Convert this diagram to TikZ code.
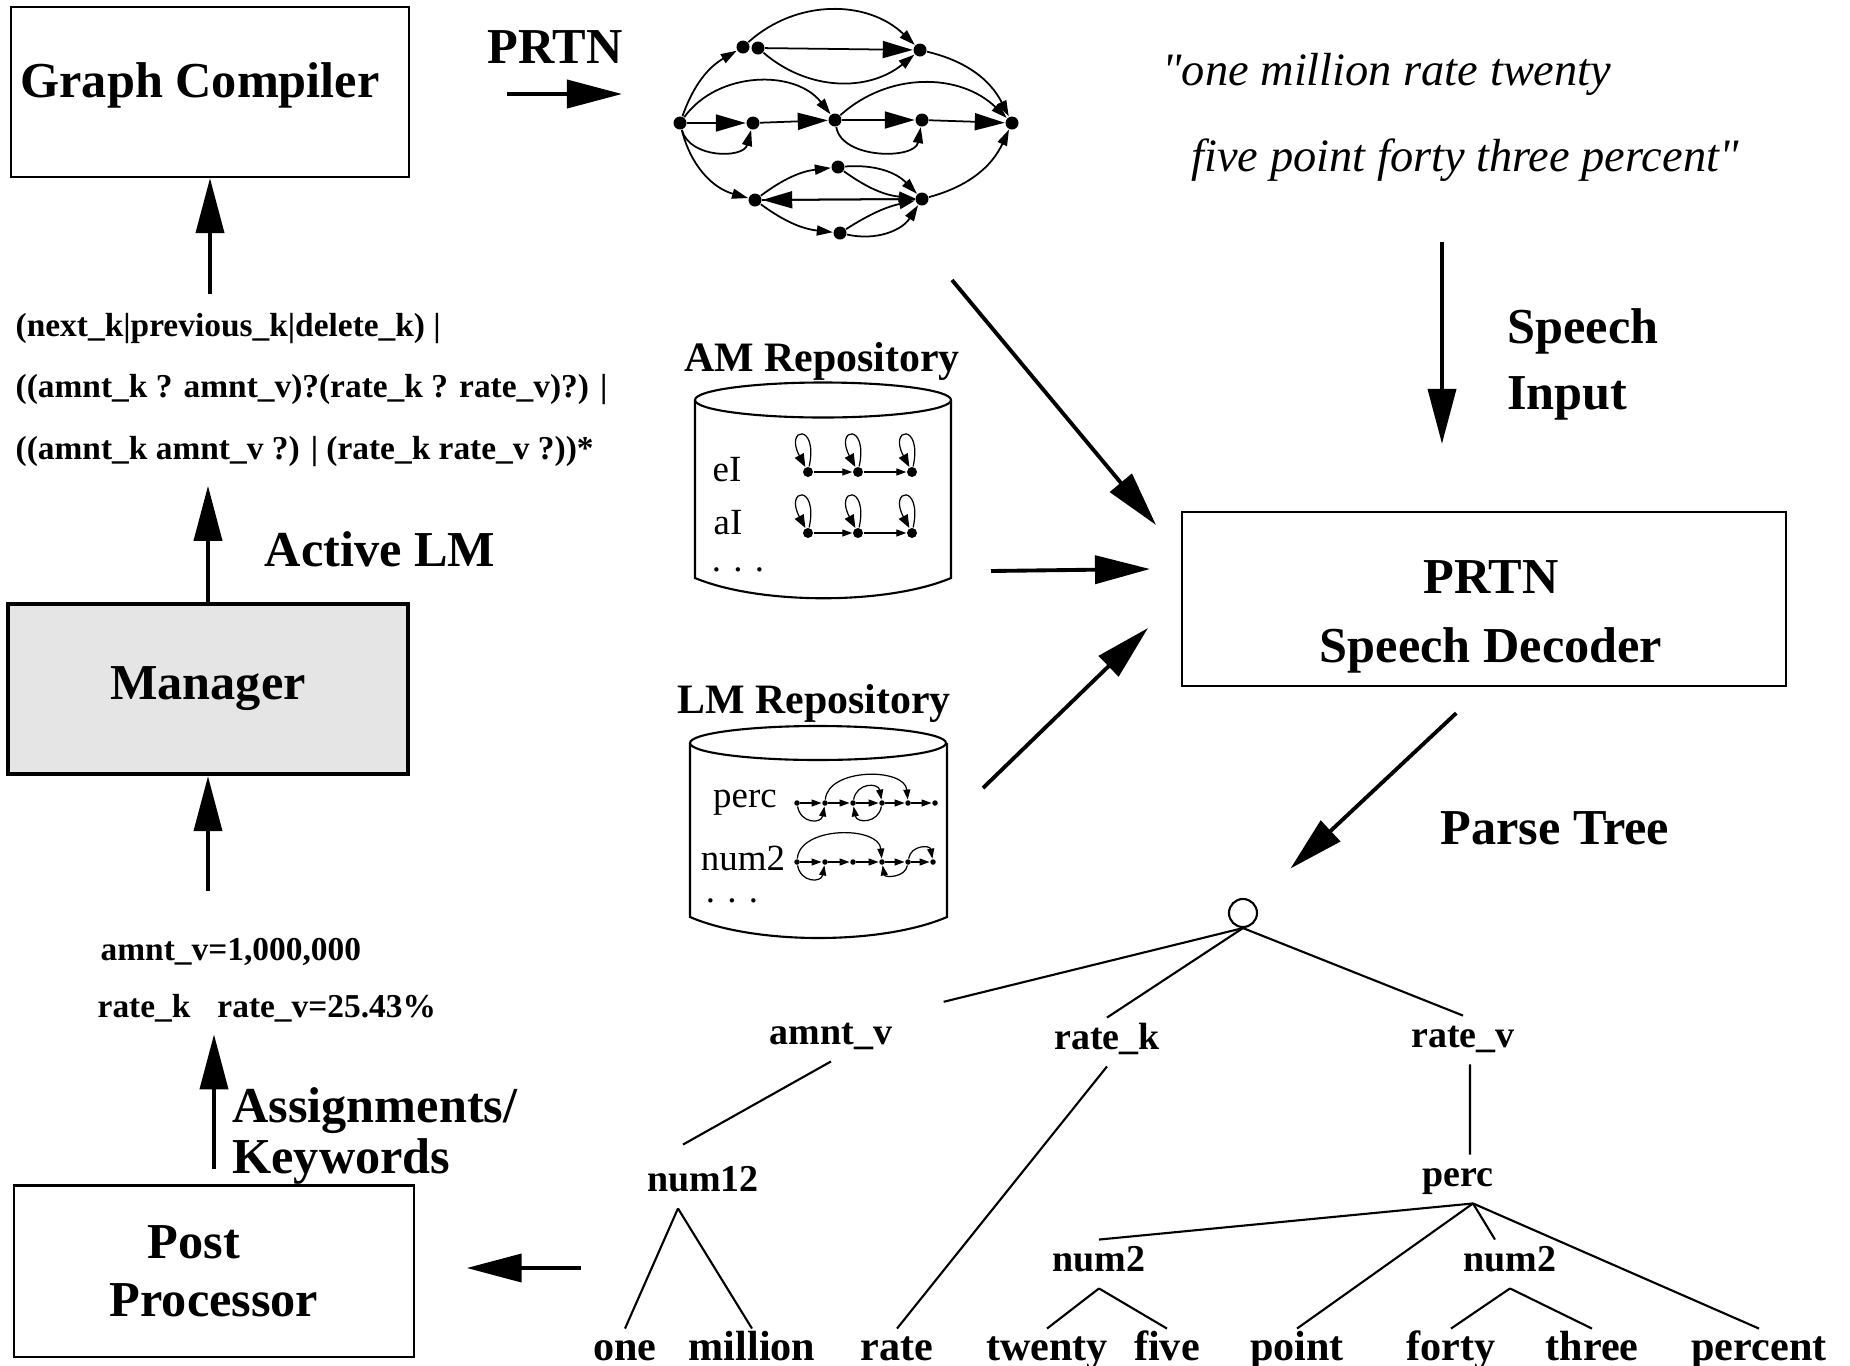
\documentclass[tikz,border=0pt]{standalone}
\usepackage{fontspec}
\setmainfont{Liberation Serif}[Ligatures=TeXOff]
\usetikzlibrary{arrows.meta,positioning}
\definecolor{mgrgray}{RGB}{229,229,229}
\newcommand{\biglbl}{\fontsize{14.3}{18.8}\selectfont\bfseries}
\newcommand{\midlbl}{\fontsize{11.9}{14}\selectfont\bfseries}
\newcommand{\smalllbl}{\fontsize{9.5}{17.6}\selectfont\bfseries}
\newcommand{\treelbl}{\fontsize{10.8}{12}\selectfont\bfseries}
\newcommand{\leaflbl}{\fontsize{12}{14}\selectfont\bfseries}
\newcommand{\replbl}{\fontsize{10.5}{12}\selectfont}

\begin{document}
\begin{tikzpicture}[
    x=0.01cm, y=0.01cm,
    box/.style={rectangle, draw, line width=0.6pt, minimum width=3.97cm, minimum height=1.7cm, align=center, font=\biglbl},
    arr/.style={-{Triangle[length=5.5mm, width=2.8mm]}, line width=1.1pt},
    dot/.style={circle, fill, inner sep=0pt, minimum size=1.3mm},
    amdot/.style={circle, fill, inner sep=0pt, minimum size=1mm},
    lmdot/.style={circle, fill, inner sep=0pt, minimum size=0.55mm},
    gbig/.style={-{Triangle[length=3mm, width=1.7mm]}, line width=0.5pt},
    gsmall/.style={-{Triangle[length=1.6mm, width=1mm]}, line width=0.5pt},
    gtiny/.style={-{Triangle[length=1mm, width=0.7mm]}, line width=0.35pt},
    tlbl/.style={font=\treelbl, inner sep=2pt, text height=0.7em, text depth=0.25em},
    leaf/.style={font=\leaflbl, inner sep=2pt, text height=0.7em, text depth=0.25em},
    tline/.style={line width=0.6pt}
]
\useasboundingbox (0,0) rectangle (1850,-1366);

% left column
\node[box] (gc) at (210,-92) {};
\node[font=\biglbl] (gctxt) at (200,-85) {Graph Compiler};
\node[anchor=west, align=left, font=\smalllbl, inner xsep=0pt, inner ysep=0.18cm] (regex) at (15,-390)
  {(next\_k|previous\_k|delete\_k) |\\((amnt\_k ? amnt\_v)?(rate\_k ? rate\_v)?) |\\((amnt\_k amnt\_v ?) | (rate\_k rate\_v ?))*};
\node[box, fill=mgrgray, line width=1.2pt, minimum width=4cm] (mgr) at (208,-689) {Manager};
\node[font=\biglbl] (alm) at (380,-549) {Active LM};
\node[anchor=west, align=left, font={\fontsize{9.5}{16.2}\selectfont\bfseries}, inner xsep=0pt] (asg) at (97,-980)
  {\hspace*{0.03cm}amnt\_v=1,000,000\\rate\_k\hspace{0.27cm}rate\_v=25.43\%};
\node[anchor=west, align=left, font={\fontsize{14.3}{14.5}\selectfont\bfseries}] (akw) at (220,-1136) {Assignments/\\Keywords};
\node[box, minimum width=3.99cm, minimum height=1.71cm, align=left, font={\fontsize{14.3}{16.5}\selectfont\bfseries}] (pp) at (214,-1271)
  {\hspace*{0.38cm}Post\\Processor};

\draw[arr] (gc.south |- regex.north) -- (gc.south);
\draw[arr] (mgr.north) -- (mgr.north |- regex.south);
\draw[arr, shorten <=3.5mm] (mgr.south |- asg.north) -- (mgr.south);
\draw[arr, shorten <=1.5mm] (pp.north) -- (pp.north |- asg.south);

% PRTN graph
\node[font=\biglbl] (prtn) at (555,-47) {PRTN};
\coordinate (prtnA) at (507,-94);
\coordinate (prtnB) at (622,-94);
\draw[arr] (prtnA) -- (prtnB);

\node[dot] (g0) at (680,-123) {};
\node[dot] (g1) at (743,-47) {};
\node[dot] (g2) at (758,-48) {};
\node[dot] (g3) at (920,-50) {};
\node[dot] (g4) at (753,-123) {};
\node[dot] (g5) at (835,-120) {};
\node[dot] (g6) at (922,-120) {};
\node[dot] (g7) at (1012,-123) {};
\node[dot] (g8) at (838,-167) {};
\node[dot] (g9) at (755,-200) {};
\node[dot] (g10) at (922,-199) {};
\node[dot] (g11) at (840,-233) {};

\draw[gsmall] (g0) to[bend left=20] (g1);
\draw[gsmall] (g1) to[bend left=43] (g3);
\draw[gbig] (g2) -- (g3);
\draw[gsmall] (g2) to[bend right=40] (g3);
\draw[gsmall] (g3) to[bend left=25] (g7);
\draw[gbig] (g0) -- (g4);
\draw[gsmall] (g0) to[bend right=75, looseness=1.1] (g4);
\draw[gsmall] (g0) to[bend left=53] (g5);
\draw[gbig] (g4) -- (g5);
\draw[gbig] (g5) -- (g6);
\draw[gsmall] (g5) to[bend right=80] (g6);
\draw[gsmall] (g5) to[bend left=43] (g7);
\draw[gbig] (g6) -- (g7);
\draw[gsmall] (g0) to[bend right=30] (g9);
\draw[gsmall] (g9) to[bend left=15] (g8);
\draw[gsmall] (g8) to[bend left=25] (g10);
\draw[gsmall] (g8) to[bend right=15] (g10);
\draw[gbig] (g10) -- (g9);
\draw[gsmall] (g9) -- (g10);
\draw[gsmall] (g9) to[bend right=15] (g11);
\draw[gsmall] (g11) to[bend left=10] (g10);
\draw[gsmall] (g11) to[bend right=35] (g10);
\draw[gsmall] (g10) to[bend right=25] (g7);

% speech input
\node[anchor=west, font=\fontsize{13.2}{15}\selectfont\itshape] (qa) at (1150,-74) {"one million rate twenty};
\node[anchor=west, font=\fontsize{13.2}{15}\selectfont\itshape] (qb) at (1179,-160) {five point forty three percent"};
\node[anchor=west, align=left, font=\biglbl] (spin) at (1495,-364) {Speech\\Input};
\node[box, minimum width=6.03cm, minimum height=1.74cm] (dec) at (1484,-599) {};
\node[align=center, font={\fontsize{14.3}{19.7}\selectfont\bfseries}] (dectxt) at (1491,-617) {PRTN\\Speech Decoder};
\coordinate (spA) at (1442,-242);
\draw[arr, shorten >=6.7mm] (spA) -- (spA |- dec.north);

% AM repository
\node[font=\midlbl] (amlbl) at (822,-361) {AM Repository};
\draw[line width=0.6pt] (823,-400) ellipse [x radius=128, y radius=17.5];
\draw[line width=0.6pt] (695,-400) -- (695,-578) .. controls (760,-605) and (887,-605) .. (951,-578) -- (951,-400);
\node[font=\replbl, inner sep=0pt] (ei) at (727,-470) {eI};
\node[font=\replbl, inner sep=0pt] (ai) at (728,-523) {aI};
\node[font=\replbl, inner sep=0pt] (amdots) at (738,-570) {.\,\,.\,\,.};
\foreach \r/\y in {a/-472, b/-533} {
  \node[amdot] (\r1) at (808,\y) {};
  \node[amdot] (\r2) at (858,\y) {};
  \node[amdot] (\r3) at (912,\y) {};
  \draw[gtiny] (\r1) -- (\r2);
  \draw[gtiny] (\r2) -- (\r3);
  \foreach \k in {1,2,3}
    \draw[-{Triangle[length=1.3mm, width=1mm]}, line width=0.35pt] (\r\k) edge[loop, out=78, in=118, min distance=4.5mm] (\r\k);
}

% LM repository
\node[font=\midlbl] (lmlbl) at (814,-703) {LM Repository};
\draw[line width=0.6pt] (818,-743) ellipse [x radius=128, y radius=17];
\draw[line width=0.6pt] (690,-743) -- (690,-917) .. controls (755,-945) and (882,-945) .. (947,-917) -- (947,-743);
\node[font=\replbl, inner sep=0pt] (perclbl) at (745,-803) {perc};
\node[font=\replbl, inner sep=0pt] (numlbl) at (743,-858) {num2};
\node[font=\replbl, inner sep=0pt] (lmdots) at (732,-901) {.\,\,.\,\,.};
\foreach \i/\x in {1/797, 2/825, 3/853, 4/882, 5/908, 6/935}
  \node[lmdot] (p\i) at (\x,-803) {};
\foreach \i/\x in {1/797, 2/825, 3/853, 4/882, 5/908, 6/933}
  \node[lmdot] (q\i) at (\x,-862) {};
\foreach \a/\b in {1/2, 2/3, 3/4, 4/5, 5/6} {
  \draw[gtiny] (p\a) -- (p\b);
  \draw[gtiny] (q\a) -- (q\b);
}
\draw[gtiny] (p1) to[bend right=80, looseness=1.7] (p2);
\draw[gtiny] (p2) to[bend left=85] (p5);
\draw[gtiny] (p3) to[bend left=80, looseness=1.6] (p4);
\draw[gtiny] (p4) to[bend left=80, looseness=1.6] (p3);
\draw[gtiny] (q1) to[bend right=80, looseness=1.7] (q2);
\draw[gtiny] (q1) to[bend left=85] (q4);
\draw[gtiny] (q5) to[bend left=80, looseness=1.3] (q4);
\draw[gtiny] (q5) to[bend left=80, looseness=1.5] (q6);

% into the decoder
\coordinate (gA) at (952,-280);
\coordinate (gB) at (1156,-525);
\coordinate (amA) at (991,-571);
\coordinate (amB) at (1150,-569);
\coordinate (lmA) at (983,-788);
\coordinate (lmB) at (1148,-628);
\draw[arr] (gA) -- (gB);
\draw[arr] (amA) -- (amB);
\draw[arr] (lmA) -- (lmB);

% parse tree
\node[font=\biglbl] (ptlbl) at (1555,-828) {Parse Tree};
\node[circle, draw, line width=0.6pt, minimum size=0.28cm, inner sep=0pt] (root) at (1243,-913) {};
\draw[arr, shorten <=3.8mm, shorten >=5mm] (dec.south) -- (root);

\node[tlbl] (amntv) at (831,-1037) {amnt\_v};
\node[tlbl] (ratek) at (1107,-1042) {rate\_k};
\node[tlbl] (ratev) at (1463,-1040) {rate\_v};
\node[tlbl] (num12) at (703,-1184) {num12};
\node[tlbl] (perc) at (1458,-1179) {perc};
\node[tlbl] (num2a) at (1099,-1264) {num2};
\node[tlbl] (num2b) at (1510,-1264) {num2};
\node[leaf] (one) at (625,-1353) {one};
\node[leaf] (million) at (752,-1353) {million};
\node[leaf] (rate) at (897,-1353) {rate};
\node[leaf] (twenty) at (1047,-1353) {twenty};
\node[leaf] (five) at (1167,-1353) {five};
\node[leaf] (point) at (1297,-1353) {point};
\node[leaf] (forty) at (1451,-1353) {forty};
\node[leaf] (three) at (1592,-1353) {three};
\node[leaf] (percent) at (1759,-1353) {percent};

\draw[tline, shorten >=4.5mm] (root.south) -- (amntv.north east);
\draw[tline] (root.south) -- (ratek.north);
\draw[tline] (root.south) -- (ratev.north);
\draw[tline] (amntv.south) -- ([xshift=-0.2cm, yshift=0.15cm]num12.north);
\draw[tline] (ratek.south) -- (rate.north);
\draw[tline] ([xshift=0.07cm]ratev.south) -- ([xshift=0.12cm]perc.north);
\draw[tline] ([xshift=-0.25cm]num12.south) -- (one.north);
\draw[tline] ([xshift=-0.25cm]num12.south) -- (million.north);
\draw[tline] ([xshift=0.15cm]perc.south) -- (num2a.north);
\draw[tline] ([xshift=0.15cm]perc.south) -- (point.north);
\draw[tline] ([xshift=0.15cm]perc.south) -- ([xshift=-0.15cm]num2b.north);
\draw[tline] ([xshift=0.15cm]perc.south) -- (percent.north);
\draw[tline] (num2a.south) -- (twenty.north);
\draw[tline] (num2a.south) -- (five.north);
\draw[tline] (num2b.south) -- (forty.north);
\draw[tline] (num2b.south) -- (three.north);

% back to post processor
\coordinate (ppin) at (581,-1268);
\draw[arr, shorten >=5.2mm] (ppin) -- (ppin -| pp.east);

\end{tikzpicture}
\end{document}
